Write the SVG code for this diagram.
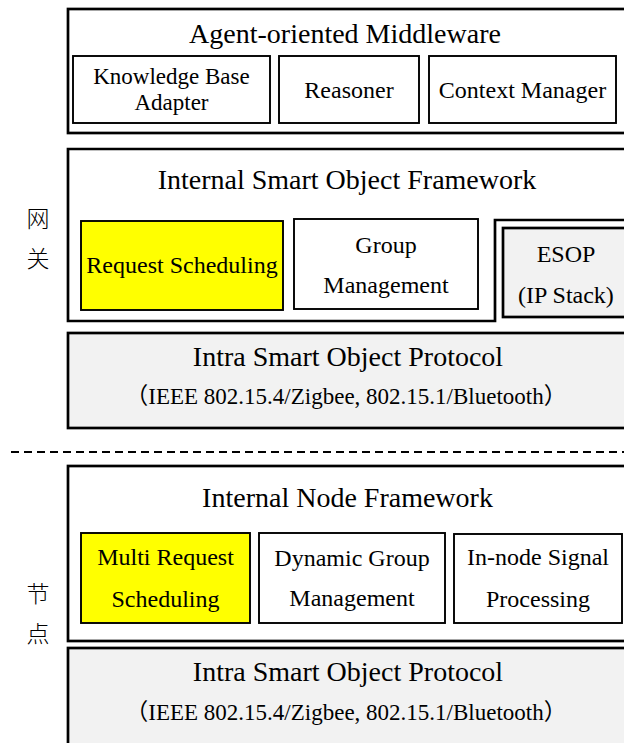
<svg xmlns="http://www.w3.org/2000/svg" width="624" height="743" viewBox="0 0 624 743">
<style>
text{font-family:"Liberation Serif","Noto Sans CJK SC",serif;fill:#000;text-anchor:middle}
.t{font-size:28px}
.b{font-size:24px}
.b2{font-size:23px}
.s{font-size:23px}
.cn{font-family:"Noto Sans CJK SC",sans-serif;font-size:23px;font-weight:300}
.outer{fill:#fff;stroke:#000;stroke-width:2.7}
.gray{fill:#f2f2f2;stroke:#000;stroke-width:2.7}
.inner{fill:#fff;stroke:#000;stroke-width:1.9}
.yel{fill:#ffff00;stroke:#000;stroke-width:1.9}
.sep{stroke:#000;stroke-width:2;stroke-dasharray:8,5;fill:none}
</style>
<rect width="624" height="743" fill="#fff"/>

<g id="middleware">
<rect class="outer" x="68" y="9" width="560" height="124"/>
<text class="t" x="345" y="43">Agent-oriented Middleware</text>
</g>
<g id="kb-adapter">
<rect class="inner" x="73" y="56" width="197" height="67"/>
<text class="b2" x="171.5" y="84">Knowledge Base</text>
<text class="b2" x="171.5" y="110">Adapter</text>
</g>
<g id="reasoner">
<rect class="inner" x="279" y="56" width="140" height="67"/>
<text class="b" x="349" y="98">Reasoner</text>
</g>
<g id="context-manager">
<rect class="inner" x="429" y="56" width="187" height="67"/>
<text class="b" x="522.5" y="98">Context Manager</text>
</g>

<g id="label-gateway">
<text class="cn" x="38" y="227">网</text>
<text class="cn" x="38" y="267">关</text>
</g>

<g id="smart-object-framework">
<path class="outer" d="M640,149 H68 V321 H495 V220 H640"/>
<text class="t" x="347" y="189">Internal Smart Object Framework</text>
</g>
<g id="request-scheduling">
<rect class="yel" x="81" y="221" width="202" height="89"/>
<text class="b" x="182" y="273">Request Scheduling</text>
</g>
<g id="group-management">
<rect class="inner" x="294" y="219" width="184" height="90"/>
<text class="b" x="386" y="253">Group</text>
<text class="b" x="386" y="293">Management</text>
</g>
<g id="esop">
<rect class="gray" x="503" y="228" width="126" height="89"/>
<text class="b" x="566" y="262">ESOP</text>
<text class="b" x="566" y="303">(IP Stack)</text>
</g>

<g id="protocol-gateway">
<rect class="gray" x="68" y="333" width="560" height="95"/>
<text class="t" x="348" y="366">Intra Smart Object Protocol</text>
<text class="s" x="346" y="404">（IEEE 802.15.4/Zigbee, 802.15.1/Bluetooth）</text>
</g>

<g id="connectors">
<line class="sep" x1="11" y1="452" x2="624" y2="452"/>
</g>

<g id="label-node">
<text class="cn" x="38" y="602">节</text>
<text class="cn" x="38" y="642">点</text>
</g>

<g id="node-framework">
<rect class="outer" x="68" y="466" width="560" height="175"/>
<text class="t" x="347.5" y="507">Internal Node Framework</text>
</g>
<g id="multi-request-scheduling">
<rect class="yel" x="81" y="533" width="169" height="90"/>
<text class="b" x="165.5" y="565">Multi Request</text>
<text class="b" x="165.5" y="607">Scheduling</text>
</g>
<g id="dynamic-group-management">
<rect class="inner" x="259" y="533" width="186" height="90"/>
<text class="b" x="352" y="566">Dynamic Group</text>
<text class="b" x="352" y="606">Management</text>
</g>
<g id="signal-processing">
<rect class="inner" x="454" y="534" width="168" height="89"/>
<text class="b" x="538" y="565">In-node Signal</text>
<text class="b" x="538" y="607">Processing</text>
</g>

<g id="protocol-node">
<rect class="gray" x="68" y="648" width="560" height="110"/>
<text class="t" x="348" y="681">Intra Smart Object Protocol</text>
<text class="s" x="346" y="720">（IEEE 802.15.4/Zigbee, 802.15.1/Bluetooth）</text>
</g>
</svg>
